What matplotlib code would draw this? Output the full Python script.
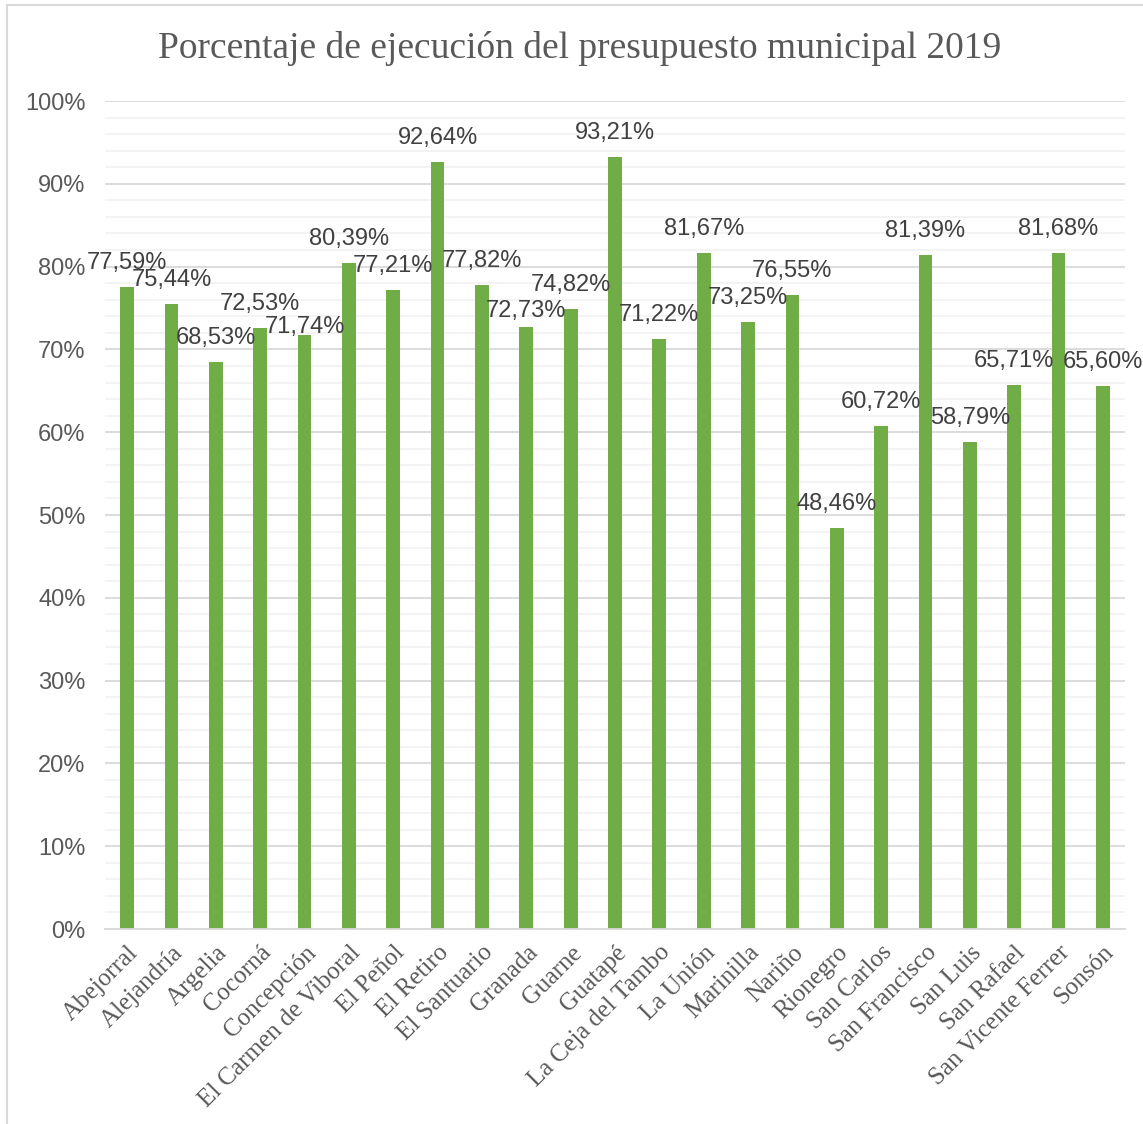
import matplotlib
matplotlib.use("Agg")
import matplotlib.pyplot as plt
from matplotlib.lines import Line2D
from matplotlib.ticker import MultipleLocator, FuncFormatter

municipios = [
    "Abejorral", "Alejandría", "Argelia", "Cocorná", "Concepción",
    "El Carmen de Viboral", "El Peñol", "El Retiro", "El Santuario", "Granada",
    "Guarne", "Guatapé", "La Ceja del Tambo", "La Unión", "Marinilla",
    "Nariño", "Rionegro", "San Carlos", "San Francisco", "San Luis",
    "San Rafael", "San Vicente Ferrer", "Sonsón",
]
ejecucion = [
    77.59, 75.44, 68.53, 72.53, 71.74,
    80.39, 77.21, 92.64, 77.82, 72.73,
    74.82, 93.21, 71.22, 81.67, 73.25,
    76.55, 48.46, 60.72, 81.39, 58.79,
    65.71, 81.68, 65.60,
]
titulo = "Porcentaje de ejecución del presupuesto municipal 2019"

W, H = 1143, 1124
fig = plt.figure(figsize=(W / 100, H / 100), dpi=100)
ax = fig.add_axes([105 / W, 1 - 929 / H, (1125 - 105) / W, (929 - 101) / H])

x = list(range(len(municipios)))
ax.bar(x, ejecucion, width=0.31, color="#70AD47", zorder=3)

ax.set_xlim(-0.5, len(municipios) - 0.5)
ax.set_ylim(0, 100)
ax.yaxis.set_major_locator(MultipleLocator(10))
ax.yaxis.set_minor_locator(MultipleLocator(2))
ax.yaxis.set_major_formatter(FuncFormatter(lambda v, p: f"{v:.0f}%"))
ax.grid(axis="y", which="major", color="#D9D9D9", linewidth=1.3, zorder=0)
ax.grid(axis="y", which="minor", color="#F2F2F2", linewidth=1.3, zorder=0)
ax.set_axisbelow(True)
for side in ("top", "right", "left"):
    ax.spines[side].set_visible(False)
ax.spines["bottom"].set_color("#D9D9D9")
ax.spines["bottom"].set_linewidth(1.3)
ax.spines["bottom"].set_zorder(4)

ax.tick_params(axis="both", which="both", length=0)
ax.tick_params(axis="y", labelsize=17, labelcolor="#595959", pad=14)
for t in ax.get_yticklabels():
    t.set_fontfamily("Liberation Sans")

ax.set_xticks(x)
ax.set_xticklabels(municipios, rotation=45, ha="right", rotation_mode="anchor",
                   fontfamily="Liberation Serif", fontsize=18, color="#595959")
ax.tick_params(axis="x", pad=9)

# value labels sit above each bar; two are lowered where neighbours crowd them
bajada_px = {4: 16, 9: 8}
for i, (xi, v) in enumerate(zip(x, ejecucion)):
    etiqueta = f"{v:.2f}%".replace(".", ",")
    dy = (18 - bajada_px.get(i, 0)) * 72 / 100
    ax.annotate(etiqueta, (xi, v), xytext=(0, dy), textcoords="offset points",
                ha="center", va="baseline", fontsize=17, color="#404040",
                fontfamily="Liberation Sans", zorder=5, annotation_clip=False)

fig.text(580 / W, 1 - 49 / H, titulo, ha="center", va="center",
         fontsize=27, color="#595959", fontfamily="Liberation Serif")

# chart-area frame
fig.add_artist(Line2D([7 / W, 1], [1 - 5 / H, 1 - 5 / H], transform=fig.transFigure,
                      color="#D9D9D9", linewidth=1.5))
fig.add_artist(Line2D([7 / W, 7 / W], [0, 1 - 5 / H], transform=fig.transFigure,
                      color="#D9D9D9", linewidth=1.5))

fig.savefig("out.png", dpi=100)
